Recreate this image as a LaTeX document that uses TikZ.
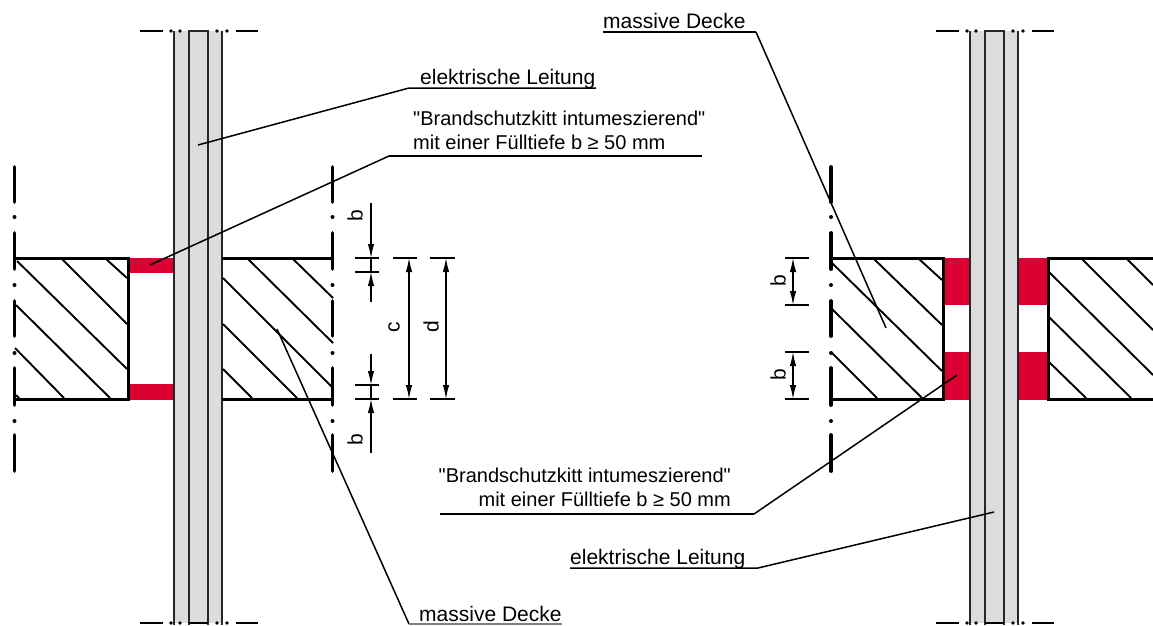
\documentclass[tikz,border=0pt]{standalone}
\usepackage{fontspec}
\setmainfont{Liberation Sans}
\newfontfamily\plainsans{Liberation Sans}
\usetikzlibrary{arrows.meta}
\definecolor{kitt}{HTML}{DC0032}
\definecolor{rohr}{HTML}{DCDCDC}
\tikzset{
  x=1pt,y=-1pt,
  lab/.style={inner sep=0pt,anchor=base west,font=\plainsans\fontsize{21}{25}\selectfont},
  labs/.style={inner sep=0pt,anchor=base west,font=\plainsans\fontsize{20}{24}\selectfont},
  labr/.style={inner sep=0pt,anchor=base east,font=\plainsans\fontsize{20}{24}\selectfont},
  dimlab/.style={inner sep=0pt,rotate=90,font=\plainsans\fontsize{21}{25}\selectfont},
  brk/.style={line width=3.8pt,line cap=round,black},
  dotm/.style={fill=black,draw=none},
  outline/.style={line width=3pt,line cap=butt,black},
  hatch/.style={line width=1.9pt,black},
  pipe/.style={line width=1.8pt,black!85},
  leader/.style={line width=1.5pt,black},
  rule/.style={line width=1.8pt,black},
  rulethick/.style={line width=2.8pt,black},
  dimline/.style={line width=1.3pt,black},
  dimtip/.style={dimline,-{Latex[length=14pt,width=6.5pt]}},
  dimtips/.style={dimline,{Latex[length=14pt,width=6.5pt]}-{Latex[length=14pt,width=6.5pt]}},
}
\begin{document}
\begin{tikzpicture}
\useasboundingbox (0,0) rectangle (1153,625);
% kitt
\fill[kitt] (129,258) rectangle (174,273);
\fill[kitt] (129,384) rectangle (174,400);
\fill[kitt] (944,258) rectangle (970,305);
\fill[kitt] (944,352) rectangle (970,400);
\fill[kitt] (1018,258) rectangle (1048,305);
\fill[kitt] (1018,352) rectangle (1048,400);
% conduit
\foreach \dx in {0,796}{
\begin{scope}[xshift=\dx pt]
\fill[rohr] (174,31) rectangle (222,623);
\draw[pipe] (174,31) -- (174,625);
\draw[pipe] (222,31) -- (222,625);
\draw[pipe] (189,625) -- (189,31) -- (208,31) -- (208,625);
\draw[outline,line width=2.4pt] (140,31) -- (163,31) (236,31) -- (258,31)
      (140,623) -- (163,623) (236,623) -- (258,623) (189,623) -- (208,623);
\foreach \px in {171,180,217,227}{
  \fill[dotm] (\px,31) circle (1.9pt);
  \fill[dotm] (\px,623) circle (1.9pt);
}
\end{scope}}
% break lines
\foreach \bx in {14.5,332.5,831}{
  \foreach \a/\b in {167/202,233/269,301/336,368/405,435/471}{
    \draw[brk] (\bx,\a) -- (\bx,\b);
  }
  \foreach \d in {217,285,353,421}{
    \fill[dotm] (\bx,\d) circle (2pt);
  }
}
% hatching
\draw[hatch] (17,261) -- (127,369) (62,259) -- (127,324) (106,259) -- (127,278)
  (16,305) -- (110,398) (15,348) -- (64,398) (16,395) -- (19,398);
\draw[hatch] (248,259) -- (333,343) (293,259) -- (333,298) (223,278) -- (332,387)
  (223,324) -- (297,398) (223,369) -- (252,398);
\draw[hatch] (832,263) -- (942,371) (874,259) -- (942,325) (919,259) -- (942,280)
  (832,309) -- (922,398) (831,352) -- (877,398);
\draw[hatch] (1049,272) -- (1153,375) (1049,317) -- (1131,398) (1049,362) -- (1086,398)
  (1082,259) -- (1153,330) (1127,259) -- (1153,285);
% block outlines
\draw[outline] (14.5,258) -- (128,258) -- (128,399) -- (14.5,399);
\draw[outline] (222,258) -- (332.5,258) (222,399) -- (332.5,399);
\draw[outline] (831,258) -- (943,258) -- (943,399) -- (831,399);
\draw[outline] (1153,258) -- (1048,258) -- (1048,399) -- (1153,399);
% labels
\node[lab] (elL) at (420,84) {elektrische Leitung};
\node[labs] (brL1) at (413,125) {"Brandschutzkitt intumeszierend"};
\node[labs] (brL2) at (413,149) {mit einer Fülltiefe b ≥ 50 mm};
\node[lab] (maB) at (419,621) {massive Decke};
\node[lab] (maT) at (603,28) {massive Decke};
\node[labr] (brR1) at (731,482) {"Brandschutzkitt intumeszierend"};
\node[labr] (brR2) at (731,506) {mit einer Fülltiefe b ≥ 50 mm};
\node[lab] (elR) at (570,564) {elektrische Leitung};
% leaders
\coordinate (a1) at (198,145); \coordinate (a2) at (409,88); \coordinate (a3) at (596,88);
\draw[leader] (a1) -- (a2) -- (a3);
\coordinate (b1) at (150,265); \coordinate (b2) at (389,156); \coordinate (b3) at (702,156);
\draw[leader] (b1) -- (b2);
\draw[rulethick,line width=2.2pt] (b2) -- (b3);
\coordinate (c1) at (277,329); \coordinate (c2) at (409,624); \coordinate (c3) at (562,624);
\draw[leader] (c1) -- (c2);
\draw[leader,black!50] (c2) -- (c3);
\coordinate (d1) at (886,328); \coordinate (d2) at (756,32); \coordinate (d3) at (603,32);
\draw[leader] (d1) -- (d2);
\draw[rule] (d2) -- (d3);
\coordinate (e1) at (957,375); \coordinate (e2) at (754,514); \coordinate (e3) at (440,514);
\draw[leader] (e1) -- (e2);
\draw[rulethick] (e2) -- (e3);
\coordinate (f1) at (994,512); \coordinate (f2) at (758,568); \coordinate (f3) at (570,568);
\draw[leader] (f1) -- (f2) -- (f3);
% dimensions centre
\coordinate (t1) at (371,258); \coordinate (t2) at (371,272);
\coordinate (t3) at (371,385); \coordinate (t4) at (371,399);
\coordinate (t1a) at (371,203); \coordinate (t2a) at (371,302);
\coordinate (t3a) at (371,354); \coordinate (t4a) at (371,453);
\draw[dimline] (355,258) -- (379,258) (355,272) -- (379,272) (355,385) -- (379,385) (355,399) -- (379,399);
\draw[dimline] (t1) -- (t2) (t3) -- (t4);
\draw[dimtip] (t1a) -- (t1);
\draw[dimtip] (t2a) -- (t2);
\draw[dimtip] (t3a) -- (t3);
\draw[dimtip] (t4a) -- (t4);
\draw[dimline] (393,258) -- (417,258) (393,399) -- (417,399);
\draw[dimline] (430,258) -- (455,258) (430,399) -- (455,399);
\coordinate (cu) at (409,258); \coordinate (cd) at (409,399);
\coordinate (du) at (446,258); \coordinate (dd) at (446,399);
\draw[dimtips] (cu) -- (cd);
\draw[dimtips] (du) -- (dd);
\node[dimlab] (lb1) at (355,216) {b};
\node[dimlab] (lb2) at (355,440) {b};
\node[dimlab] (lc) at (394,327) {c};
\node[dimlab] (ld) at (431,327) {d};
% dimensions right
\coordinate (g1) at (793,258); \coordinate (g2) at (793,305);
\coordinate (g3) at (793,352); \coordinate (g4) at (793,399);
\draw[dimline] (785,258) -- (809,258) (785,305) -- (809,305) (785,352) -- (809,352) (785,399) -- (809,399);
\draw[dimtips] (g1) -- (g2);
\draw[dimtips] (g3) -- (g4);
\node[dimlab] (lb3) at (778,281) {b};
\node[dimlab] (lb4) at (778,375) {b};
\end{tikzpicture}
\end{document}
